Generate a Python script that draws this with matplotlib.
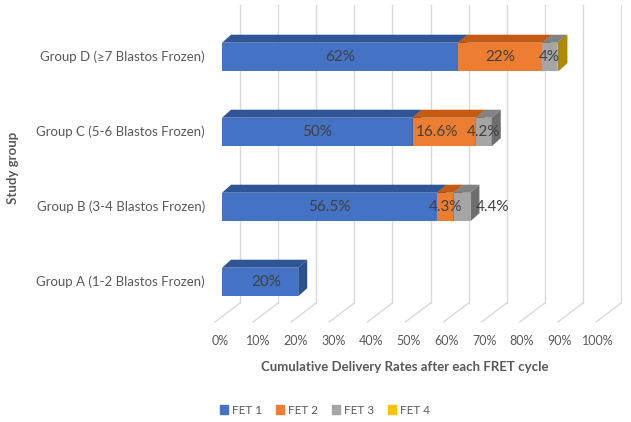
import matplotlib
matplotlib.use("Agg")
import matplotlib.pyplot as plt
from matplotlib.patches import Polygon, Patch
import numpy as np

plt.rcParams['font.family'] = ['Lato', 'DejaVu Sans']

# =====================
# Data
# =====================
groups = ['Group A (1-2 Blastos Frozen)', 'Group B (3-4 Blastos Frozen)',
          'Group C (5-6 Blastos Frozen)', 'Group D (\u22657 Blastos Frozen)']
series = ['FET 1', 'FET 2', 'FET 3', 'FET 4']
fet1 = [20, 56.5, 50, 62]
fet2 = [0, 4.3, 16.6, 22]
fet3 = [0, 4.4, 4.2, 4]
fet4 = [0, 0, 0, 0.3]
labels = [['20%', '', '', ''],
          ['56.5%', '4.3%', '4.4%', ''],
          ['50%', '16.6%', '4.2%', ''],
          ['62%', '22%', '4%', '']]
ticks = list(range(0, 101, 10))

# =====================
# Style
# =====================
front_c = ['#4472C4', '#ED7D31', '#A5A5A5', '#FFC000']
top_c = ['#2F5597', '#C55A11', '#828282', '#BF9000']
side_c = ['#2E4F8C', '#A64B0F', '#6E6E6E', '#B08A00']
txt_c = '#595959'
lbl_c = '#404040'
grid_c = '#D9D9D9'

bar_h = 0.38
dx, dy = 2.36, 0.107          # bar depth
wall_dx, floor_y = 4.72, -0.28   # back wall
front_dx, front_y = -1.84, -0.533  # front edge of floor
label_shift = {(2, 1): -1.8, (1, 2): 8.1, (0, 0): 1.6}

fig = plt.figure(figsize=(6.31, 4.22), dpi=100)
ax = fig.add_axes([210.6 / 631, 0.1985, 0.6521, 0.7909])
ax.set_xlim(-3, 105)
ax.set_ylim(-0.75, 3.7)
ax.axis('off')

# back wall gridlines + floor lines
for t in ticks:
    ax.plot([t + wall_dx, t + wall_dx], [floor_y, 3.69], color=grid_c, lw=1, zorder=0)
    ax.plot([t + wall_dx, t + front_dx], [floor_y, front_y], color=grid_c, lw=1,
            zorder=0, clip_on=False)
    ax.text(t * 0.99 - 0.5, -0.787, f'{t}%', ha='center', va='center',
            fontsize=9, color=txt_c, clip_on=False)

# =====================
# 3D-looking stacked bars
# =====================
data = np.array([fet1, fet2, fet3, fet4]).T
for i, row in enumerate(data):
    left = 0
    for j, w in enumerate(row):
        if w <= 0:
            continue
        y0, y1 = i - bar_h / 2, i + bar_h / 2
        ax.barh(i, w, left=left, height=bar_h, color=front_c[j], zorder=3 + j * 0.1)
        r = left + w
        ax.add_patch(Polygon([[left, y1], [r, y1], [r + dx, y1 + dy], [left + dx, y1 + dy]],
                             closed=True, color=top_c[j], lw=0, zorder=3 + j * 0.1))
        ax.add_patch(Polygon([[r, y0], [r + dx, y0 + dy], [r + dx, y1 + dy], [r, y1]],
                             closed=True, color=side_c[j], lw=0, zorder=3 + j * 0.1))
        lab = labels[i][j]
        if lab:
            ax.text(left + w / 2 + label_shift.get((i, j), 0), i, lab, ha='center',
                    va='center', fontsize=11, color=lbl_c, zorder=10)
        left = r

# category labels
for i, g in enumerate(groups):
    ax.text(-4.46, i, g, ha='right', va='center', fontsize=9.5, color=txt_c,
            clip_on=False)

fig.text(13 / 631, 1 - 168 / 422, 'Study group', rotation=90, ha='center', va='center',
         fontsize=9.5, fontweight='bold', color=txt_c)
fig.text(405 / 631, 1 - 367 / 422, 'Cumulative Delivery Rates after each FRET cycle',
         ha='center', va='center', fontsize=9.5, fontweight='bold', color=txt_c)

handles = [Patch(color=c, label=s) for c, s in zip(front_c, series)]
fig.legend(handles=handles, loc='center', bbox_to_anchor=(325 / 631, 1 - 410 / 422),
           ncol=4, frameon=False, fontsize=8.5, labelcolor=txt_c,
           handlelength=0.7, handleheight=0.7, handletextpad=0.3, columnspacing=1.2)

plt.savefig('out.png', dpi=100)
